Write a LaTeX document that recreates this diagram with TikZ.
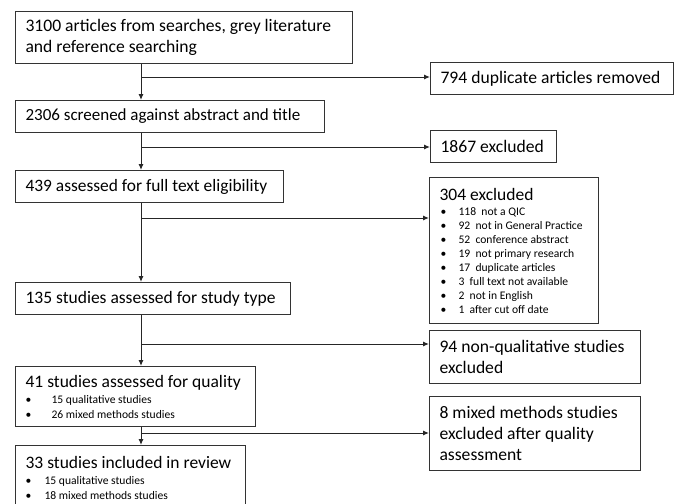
\documentclass[tikz,border=0pt]{standalone}
\usepackage{fontspec}
\setmainfont{Carlito}
\usetikzlibrary{arrows.meta}
\tikzset{
  box/.style={draw=black!80, line width=1.1pt, anchor=north west, align=left, inner xsep=10pt, inner ysep=0pt, font=\fontsize{17.6}{21}\selectfont},
  big/.style={font=\fontsize{17.5}{21}\selectfont},
  arr/.style={draw=black!85, line width=1pt, -{Latex[length=6pt,width=5pt]}},
}
\newcommand{\bl}[2]{{\fontsize{11.6}{14}\selectfont\makebox[#1][l]{\textbullet}#2}}
\newcommand{\fw}[2]{\makebox[#1][l]{#2}}
\begin{document}
\begin{tikzpicture}[x=1pt,y=-1pt]
\useasboundingbox (0,0) rectangle (681,504);
% left column
\node[box, minimum height=52pt] (b1) at (15,11) {\fw{317pt}{3100 articles from searches, grey literature}\\and reference searching};
\node[box, minimum height=32pt, font=\fontsize{17}{21}\selectfont] (b2) at (15,100) {\fw{289pt}{2306 screened against abstract and title}};
\node[box, minimum height=32pt, font=\fontsize{17.4}{21}\selectfont] (b3) at (15,170) {\fw{248pt}{439 assessed for full text eligibility}};
\node[box, big, minimum height=32pt] (b4) at (15,282) {\fw{255pt}{135 studies assessed for study type}};
\node[box, big, minimum height=60pt] (b5) at (15,366) {\fw{220pt}{41 studies assessed for quality}\\[-5pt]
\bl{26pt}{15 qualitative studies}\\[-6pt]\bl{26pt}{26 mixed methods studies}};
\node[box, big, minimum height=64pt] (b6) at (15,445) {\fw{210pt}{33 studies included in review}\\[-5pt]
\bl{19pt}{15 qualitative studies}\\[-6pt]\bl{19pt}{18 mixed methods studies}};
% right column
\node[box, minimum height=32pt] (d1) at (430,62) {\fw{223pt}{794 duplicate articles removed}};
\node[box, minimum height=32pt] (d2) at (430,130) {\fw{106pt}{1867 excluded}};
\node[box, big, minimum height=146pt] (d3) at (429,177) {\fw{149pt}{304 excluded}\\[-6pt]
\hspace*{1pt}\bl{18pt}{118\ \ not a QIC}\\[-7pt]
\hspace*{1pt}\bl{18pt}{92\ \ not in General Practice}\\[-7pt]
\hspace*{1pt}\bl{18pt}{52\ \ conference abstract}\\[-7pt]
\hspace*{1pt}\bl{18pt}{19\ \ not primary research}\\[-7pt]
\hspace*{1pt}\bl{18pt}{17\ \ duplicate articles}\\[-7pt]
\hspace*{1pt}\bl{18pt}{3\ \ full text not available}\\[-7pt]
\hspace*{1pt}\bl{18pt}{2\ \ not in English}\\[-7pt]
\hspace*{1pt}\bl{18pt}{1\ \ after cut off date}};
\node[box, minimum height=53pt] (d4) at (429,330) {\fw{191pt}{94 non-qualitative studies}\\excluded};
\node[box, minimum height=74pt] (d5) at (429,396) {\fw{191pt}{8 mixed methods studies}\\excluded after quality\\assessment};
% junctions on main line
\coordinate (j1) at (141,77);
\coordinate (j2) at (141,147);
\coordinate (j3) at (141,218);
\coordinate (j4) at (141,344);
\coordinate (j5) at (141,433);
% main flow
\draw[arr] (b1.south -| j1) -- (b2.north -| j1);
\draw[arr] (b2.south -| j1) -- (b3.north -| j1);
\draw[arr] (b3.south -| j1) -- (b4.north -| j1);
\draw[arr] (b4.south -| j1) -- (b5.north -| j1);
\draw[arr] (b5.south -| j1) -- (b6.north -| j1);
% branches
\draw[arr] (j1) -- (j1 -| d1.west);
\draw[arr] (j2) -- (j2 -| d2.west);
\draw[arr] (j3) -- (j3 -| d3.west);
\draw[arr] (j4) -- (j4 -| d4.west);
\draw[arr] (j5) -- (j5 -| d5.west);
\end{tikzpicture}
\end{document}
